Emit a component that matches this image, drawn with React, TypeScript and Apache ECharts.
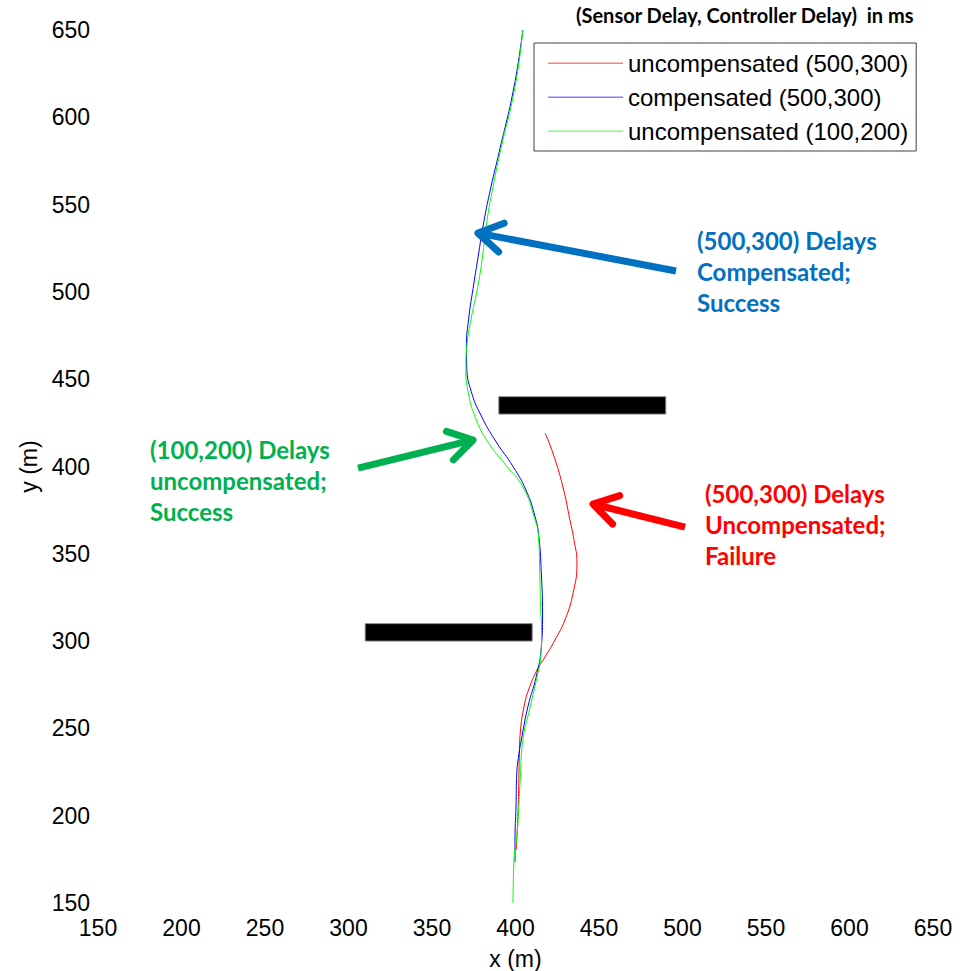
import React, { useEffect, useRef } from "react";
import * as echarts from "echarts";

// Axis range (metres)
const axisMin = 150;
const axisMax = 650;
const axisStep = 50;

// Trajectories as [x, y] in metres
const uncomp500_300: [number, number][] = [
  [400.4, 180.4], [401.5, 201.6], [402.0, 220.4], [402.3, 235.0], [403.0, 249.1],
  [405.1, 262.3], [407.8, 272.0], [412.9, 283.5], [417.7, 290.9], [423.6, 300.6],
  [429.6, 312.1], [434.6, 328.0], [436.8, 344.7], [435.0, 358.0], [432.6, 369.4],
  [428.4, 388.3], [422.4, 407.7], [417.7, 419.2],
];

const comp500_300: [number, number][] = [
  [399.7, 173.5], [399.7, 186.1], [400.3, 205.0], [400.8, 224.5], [402.0, 235.0],
  [403.8, 245.0], [407.4, 262.3], [412.5, 280.0], [415.5, 297.0], [416.2, 315.0],
  [415.4, 340.0], [414.0, 359.6], [411.8, 371.0], [406.5, 386.0], [398.5, 400.0],
  [388.5, 414.0], [379.5, 429.0], [373.5, 443.0], [370.8, 457.0], [370.6, 468.4],
  [372.0, 485.0], [374.6, 502.0], [377.6, 520.0], [381.0, 540.0], [385.3, 560.1],
  [390.1, 579.6], [399.1, 617.4], [404.4, 650.0],
];

const uncomp100_200: [number, number][] = [
  [398.5, 150.0], [399.1, 174.6], [401.0, 190.0], [402.8, 220.0], [404.4, 243.4],
  [408.8, 262.3], [413.0, 280.0], [415.2, 292.0], [415.6, 305.0], [415.0, 320.0],
  [414.5, 340.0], [413.8, 359.6], [411.2, 371.0], [404.4, 388.3], [394.0, 401.0],
  [383.5, 414.0], [376.0, 428.0], [371.8, 442.0], [370.3, 456.0], [371.0, 470.0],
  [373.5, 485.0], [376.8, 500.0], [379.5, 515.0], [381.5, 530.0], [383.6, 545.0],
  [386.5, 560.0], [390.7, 579.6], [399.7, 617.4], [404.4, 650.0],
];

// Obstacles: [x0, x1] and [y0, y1]
const obstacleX: [number, number][] = [[390, 490], [310, 410]];
const obstacleY: [number, number][] = [[430, 440], [300, 310]];

// Callout arrows in data space: tail -> tip
const arrowTails: [number, number][] = [[496.1, 512.0], [305.7, 399.1], [501.5, 365.3]];
const arrowTips: [number, number][] = [[377.5, 533.7], [374.6, 415.2], [446.4, 378.5]];

const seriesNames = [
  "uncompensated (500,300)",
  "compensated (500,300)",
  "uncompensated (100,200)",
];

const BLUE_NOTE = "#0070C0";
const GREEN_NOTE = "#00B050";
const RED_NOTE = "#FF0000";
const arrowColors = [BLUE_NOTE, GREEN_NOTE, RED_NOTE];

const AXIS_FONT = "'Liberation Sans', Arial, sans-serif";
const NOTE_FONT = "Lato, 'Open Sans', sans-serif";

const notes = [
  { left: 697, top: 225, color: BLUE_NOTE, text: "(500,300) Delays\nCompensated;\nSuccess" },
  { left: 150, top: 434, color: GREEN_NOTE, text: "(100,200) Delays\nuncompensated;\nSuccess" },
  { left: 705, top: 478, color: RED_NOTE, text: "(500,300) Delays\nUncompensated;\nFailure" },
];

// Plain line swatch for the legend
const LINE_ICON = "path://M0,0 L100,0 L100,1 L0,1 Z";

export default function App() {
  const ref = useRef<HTMLDivElement>(null);

  useEffect(() => {
    if (!ref.current) return;
    const chart = echarts.init(ref.current, undefined, { renderer: "svg" });

    const axisCommon = {
      type: "value" as const,
      min: axisMin,
      max: axisMax,
      interval: axisStep,
      nameLocation: "middle" as const,
      nameTextStyle: { fontFamily: AXIS_FONT, fontSize: 23, color: "#000" },
      axisLine: { show: false },
      axisTick: { show: false },
      splitLine: { show: false },
    };

    const lineColors = ["#ff0000", "#0000ff", "#00ff00"];
    const paths = [uncomp500_300, comp500_300, uncomp100_200];

    chart.setOption({
      animation: false,
      backgroundColor: "#ffffff",
      title: {
        text: "(Sensor Delay, Controller Delay)  in ms",
        left: 576,
        top: 5,
        padding: 0,
        textStyle: { fontFamily: NOTE_FONT, fontWeight: "bold", fontSize: 20, color: "#000" },
      },
      legend: {
        orient: "vertical",
        left: 534,
        top: 43,
        padding: [8, 8, 8, 14],
        itemGap: 10,
        itemWidth: 75,
        itemHeight: 24,
        icon: LINE_ICON,
        borderColor: "#404040",
        borderWidth: 1,
        textStyle: { fontFamily: AXIS_FONT, fontSize: 24, color: "#000" },
        data: seriesNames,
      },
      grid: { left: 98, right: 32, top: 30, bottom: 68, outerBoundsMode: "none" },
      xAxis: {
        ...axisCommon,
        name: "x (m)",
        nameGap: 44,
        axisLabel: { fontFamily: AXIS_FONT, fontSize: 23, color: "#000", margin: 13 },
      },
      yAxis: {
        ...axisCommon,
        name: "y (m)",
        nameGap: 56,
        axisLabel: { fontFamily: AXIS_FONT, fontSize: 23, color: "#000", margin: 8 },
      },
      graphic: notes.map((n) => ({
        type: "text",
        left: n.left,
        top: n.top,
        style: {
          text: n.text,
          fill: n.color,
          fontFamily: NOTE_FONT,
          fontWeight: "bold",
          fontSize: 24,
          lineHeight: 31,
        },
      })),
      series: [
        {
          type: "custom",
          name: "obstacles",
          silent: true,
          z: 1,
          data: obstacleX.map((xs, i) => [xs[0], obstacleY[i][0], xs[1], obstacleY[i][1]]),
          encode: { x: [0, 2], y: [1, 3] },
          renderItem: (_params: any, api: any) => {
            const a = api.coord([api.value(0), api.value(3)]);
            const b = api.coord([api.value(2), api.value(1)]);
            return {
              type: "rect",
              shape: { x: a[0], y: a[1], width: b[0] - a[0], height: b[1] - a[1] },
              style: { fill: "#000", stroke: "#8c8c8c", lineWidth: 1 },
            };
          },
        },
        ...paths.map((d, i) => ({
          type: "line",
          name: seriesNames[i],
          data: d,
          smooth: 0.5,
          symbol: "none",
          lineStyle: { color: lineColors[i], width: 1 },
          itemStyle: { color: lineColors[i] },
          z: 2,
        })),
        {
          type: "custom",
          name: "callouts",
          silent: true,
          z: 5,
          data: arrowTails.map((t, i) => [t[0], t[1], arrowTips[i][0], arrowTips[i][1]]),
          encode: { x: [0, 2], y: [1, 3] },
          renderItem: (params: any, api: any) => {
            const t = api.coord([api.value(0), api.value(1)]);
            const h = api.coord([api.value(2), api.value(3)]);
            const color = arrowColors[params.dataIndex];
            const ang = Math.atan2(t[1] - h[1], t[0] - h[0]);
            const len = 28;
            const spread = 0.55;
            const p1 = [h[0] + len * Math.cos(ang + spread), h[1] + len * Math.sin(ang + spread)];
            const p2 = [h[0] + len * Math.cos(ang - spread), h[1] + len * Math.sin(ang - spread)];
            return {
              type: "group",
              children: [
                {
                  type: "line",
                  shape: { x1: t[0], y1: t[1], x2: h[0] + 3 * Math.cos(ang), y2: h[1] + 3 * Math.sin(ang) },
                  style: { stroke: color, lineWidth: 7, lineCap: "butt" },
                },
                {
                  type: "polyline",
                  shape: { points: [p1, h, p2] },
                  style: { stroke: color, lineWidth: 7, fill: "none", lineCap: "round", lineJoin: "round" },
                },
              ],
            };
          },
        },
      ],
    });

    return () => chart.dispose();
  }, []);

  return (
    <div
      ref={ref}
      style={{ position: "fixed", left: 0, top: 0, width: 965, height: 971, background: "#fff" }}
    />
  );
}
